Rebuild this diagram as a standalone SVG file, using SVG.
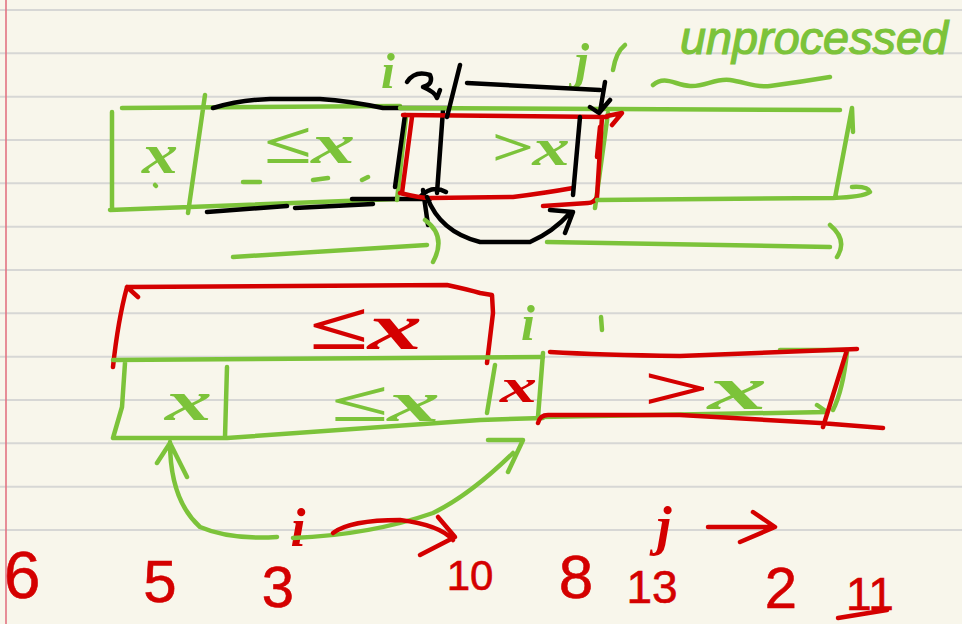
<svg xmlns="http://www.w3.org/2000/svg" width="962" height="624" viewBox="0 0 962 624">
<style>
.rule{stroke:#d7d7d5;stroke-width:2}
.g,.r,.k{fill:none;stroke-linecap:round;stroke-linejoin:round}
.g{stroke:#7cc33a;stroke-width:4.5}
.r{stroke:#d40000;stroke-width:4.5}
.k{stroke:#000;stroke-width:4.5}
.t{font-family:"Liberation Serif",serif;font-style:italic;font-weight:bold}
.n{font-family:"Liberation Sans",sans-serif;text-anchor:middle;fill:#d40000;stroke:#d40000;stroke-width:0.6}
.tg{fill:#7cc33a}
.tr{fill:#d40000}
</style>
<rect width="962" height="624" fill="#f8f6eb"/>
<g id="paper">
<line class="rule" x1="0" y1="10" x2="962" y2="10"/>
<line class="rule" x1="0" y1="53.3" x2="962" y2="53.3"/>
<line class="rule" x1="0" y1="96.7" x2="962" y2="96.7"/>
<line class="rule" x1="0" y1="140" x2="962" y2="140"/>
<line class="rule" x1="0" y1="183.3" x2="962" y2="183.3"/>
<line class="rule" x1="0" y1="226.7" x2="962" y2="226.7"/>
<line class="rule" x1="0" y1="270" x2="962" y2="270"/>
<line class="rule" x1="0" y1="313.3" x2="962" y2="313.3"/>
<line class="rule" x1="0" y1="356.7" x2="962" y2="356.7"/>
<line class="rule" x1="0" y1="400" x2="962" y2="400"/>
<line class="rule" x1="0" y1="443.3" x2="962" y2="443.3"/>
<line class="rule" x1="0" y1="486.7" x2="962" y2="486.7"/>
<line class="rule" x1="0" y1="530" x2="962" y2="530"/>
<line x1="6" y1="0" x2="6" y2="624" stroke="#e27482" stroke-width="1.6"/>
</g>

<g id="top-array">
<g id="top-pivot">
<path class="g" d="M112,112 L112,210 M110,210 L397,199 M122,108 L400,106 M205,95 L188,213"/>
<text class="t tg" x="142" y="173" font-size="58" textLength="36" lengthAdjust="spacingAndGlyphs">x</text>
<path class="g" d="M155,185 L156,186" stroke-width="4"/>
</g>
<g id="top-le">
<path class="k" d="M213,108 Q240,100 270,99 L320,99 Q350,101 383,108 L447,108 M207,212 L287,206 M295,208 L373,204 M352,199 L430,199"/>
<text class="t tg" x="263" y="163" font-size="58" textLength="92" lengthAdjust="spacingAndGlyphs">≤x</text>
<path class="g" d="M243,182 L260,182 M313,180 L328,178 M362,180 L368,177" stroke-width="4"/>
</g>
<g id="top-i-cell">
<path class="g" d="M406,117 L397,200"/>
<path class="r" d="M412,117 L402,193"/>
<path class="k" d="M405,115 L395,187 M443,110 L437,193 M423,190 L428,225 M420,197 Q432,184 446,192"/>
</g>
<g id="top-gt">
<path class="g" d="M400,108 L840,110 M608,113 L595,208"/>
<path class="r" d="M403,115 L607,117 M400,193 Q420,198 430,198 L513,197 Q545,193 573,188 M602,117 L597,197 Q594,203 588,203 L543,206 M607,116 L622,113 L612,125"/>
<path class="r" d="M600,127 L597,157" stroke-width="7"/>
<path class="k" d="M580,117 L573,195"/>
<text class="t tg" x="490" y="165" font-size="52" textLength="80" lengthAdjust="spacingAndGlyphs">&gt;x</text>
</g>
<g id="top-unprocessed">
<path class="g" d="M597,200 L833,198 Q863,197 870,192 Q868,186 852,187 M835,198 L852,108 M852,108 L853,132"/>
<text class="tg" x="680" y="54" font-size="46" font-family="Liberation Sans,sans-serif" font-style="italic" stroke="#7cc33a" stroke-width="1.2" textLength="268" lengthAdjust="spacingAndGlyphs">unprocessed</text>
<path class="g" d="M653,85 C665,75 675,85 690,86 C705,87 715,78 730,80 C745,82 755,88 770,86 C785,84 800,82 830,77"/>
</g>
<g id="top-i-label">
<text class="t tg" x="388" y="88" font-size="50" text-anchor="middle">i</text>
</g>
<g id="top-j-label">
<text class="t tg" x="582" y="78" font-size="50" text-anchor="middle">j</text>
<path class="g" d="M613,70 Q616,52 625,45" stroke-width="3.5"/>
</g>
</g>

<g id="bottom-array">
<g id="bottom-le-bracket">
<path class="r" d="M113,367 Q118,320 127,287 L447,285 Q470,290 480,293 L492,295 L493,313 L487,363 M127,287 L138,297"/>
<text class="t tr" x="308" y="349" font-size="66" textLength="114" lengthAdjust="spacingAndGlyphs">≤x</text>
</g>
<g id="bottom-pivot">
<path class="g" d="M113,360 L543,357 M125,363 L122,407 L113,438 M113,438 L227,438 L480,420 L543,418 M227,367 L225,437"/>
<text class="t tg" x="165" y="420" font-size="58" textLength="47" lengthAdjust="spacingAndGlyphs">x</text>
</g>
<g id="bottom-le">
<text class="t tg" x="330" y="421" font-size="56" textLength="110" lengthAdjust="spacingAndGlyphs">≤x</text>
</g>
<g id="bottom-swap-cell">
<path class="g" d="M495,365 L487,413 M543,353 L538,417"/>
<text class="t tr" x="500" y="402" font-size="48" textLength="37" lengthAdjust="spacingAndGlyphs">x</text>
</g>
<g id="bottom-i-label">
<text class="t tg" x="528" y="340" font-size="50" text-anchor="middle">i</text>
<path class="g" d="M601,317 L602,330" stroke-width="3.5"/>
</g>
<g id="bottom-gt">
<path class="g" d="M780,350 L847,350 M540,417 L827,412 M817,405 L827,412 M847,352 Q843,390 833,410"/>
<path class="r" d="M550,352 Q600,355 680,356 L857,349 M847,350 L823,427 M538,423 Q540,415 548,415 L680,415 L820,423 L883,428"/>
<text class="t" x="640" y="409" font-size="62" textLength="127" lengthAdjust="spacingAndGlyphs"><tspan class="tr">&gt;</tspan><tspan class="tg">x</tspan></text>
</g>
</g>

<g id="values">
<text class="n" x="22" y="598" font-size="66">6</text>
<text class="n" x="160" y="602" font-size="60">5</text>
<text class="n" x="278" y="607" font-size="58">3</text>
<text class="n" x="470" y="590" font-size="42">10</text>
<text class="n" x="576" y="598" font-size="62">8</text>
<text class="n" x="652" y="603" font-size="46">13</text>
<text class="n" x="781" y="608" font-size="58">2</text>
<text class="n" x="870" y="610" font-size="46">11</text>
<path class="r" d="M838,618 L887,610"/>
</g>

<g id="pointer-labels">
<text class="t tr" x="298" y="546" font-size="54" text-anchor="middle">i</text>
<text class="t tr" x="664" y="544" font-size="54" text-anchor="middle">j</text>
</g>

<g id="connectors">
<path class="k" d="M407,82 Q415,70 430,75 Q434,84 423,87 Q435,92 437,98 L440,90"/>
<path class="k" d="M460,65 L447,117 M467,83 L600,90 M605,82 L600,112 M590,107 L599,113 L610,100"/>
<path class="k" d="M427,197 Q440,232 480,242 L530,242 Q553,232 570,213 M550,210 L573,212 L565,233"/>
<path class="g" d="M233,257 L427,245 M425,220 Q447,236 433,262"/>
<path class="g" d="M547,242 Q700,245 830,247 M830,225 Q848,240 837,257"/>
<path class="g" d="M170,442 Q170,500 200,527 Q230,540 277,537 M293,538 Q370,535 433,513 Q470,495 513,453 M157,463 L170,443 L187,477 M488,440 L523,440 L508,472"/>
<path class="r" d="M333,533 Q350,520 400,520 Q440,525 453,540 M438,517 L455,537 L420,555"/>
<path class="r" d="M708,527 L773,527 M753,512 L775,527 L740,542"/>
</g>
</svg>
